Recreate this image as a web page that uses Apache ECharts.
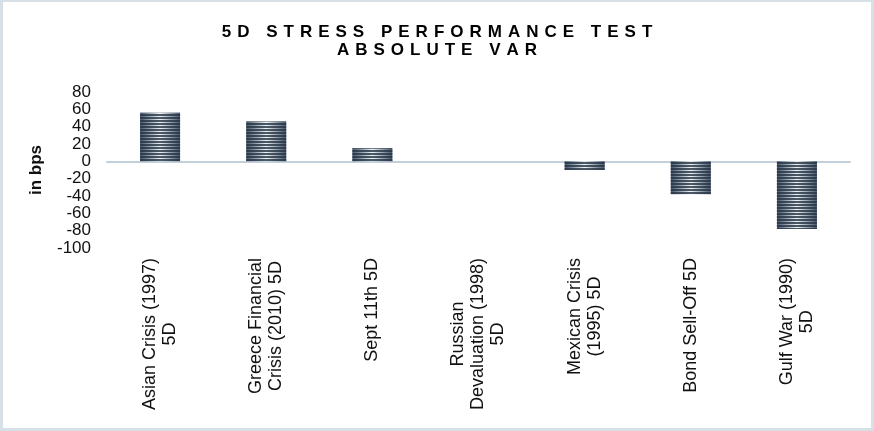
<!DOCTYPE html>
<html>
<head>
<meta charset="utf-8">
<script src="https://cdn.jsdelivr.net/npm/echarts@6/dist/echarts.min.js"></script>
<style>
  html, body { margin: 0; padding: 0; background: #fff; }
  #chart {
    width: 874px; height: 431px;
    box-shadow: inset 3px 2px 0 #d8e0e7, inset -3px -3px 0 #d8e0e7;
  }
</style>
</head>
<body>
<div id="chart"></div>
<script>
const titleLines = ['5D STRESS PERFORMANCE TEST', 'ABSOLUTE VAR'];
const yAxisName = 'in bps';
const scenarios = [
    'Asian Crisis (1997)\n5D',
    'Greece Financial\nCrisis (2010) 5D',
    'Sept 11th 5D',
    'Russian\nDevaluation (1998)\n5D',
    'Mexican Crisis\n(1995) 5D',
    'Bond Sell-Off 5D',
    'Gulf War (1990)\n5D'
];
const varValues = [56, 46, 15, 0, -10, -38, -78];
const yMin = -100;
const yMax = 80;
const yStep = 20;

const FONT = '"Liberation Sans", Arial, sans-serif';

// spread title letters out, echarts has no letter spacing
function spaced(line) {
    return line.split('').map(ch => '{c|' + ch + '}').join('');
}

const chart = echarts.init(document.getElementById('chart'));

const option = {
    animation: false,
    title: {
        text: titleLines.map(spaced).join('\n'),
        left: 'center',
        top: 23,
        padding: 0,
        textStyle: {
            fontFamily: FONT,
            fontSize: 17,
            fontWeight: 'bold',
            color: '#000',
            lineHeight: 18,
            rich: {
                c: {
                    fontFamily: FONT,
                    fontSize: 17,
                    fontWeight: 'bold',
                    color: '#000',
                    lineHeight: 18,
                    padding: [0, 3, 0, 3]
                }
            }
        }
    },
    grid: { left: 107, right: 24, top: 92, bottom: 183 },
    xAxis: {
        type: 'category',
        data: scenarios,
        axisLine: { onZero: true, lineStyle: { color: '#c3cfd9', width: 2 } },
        axisTick: { show: false },
        axisLabel: {
            interval: 0,
            rotate: 90,
            margin: 10,
            formatter: v => v.split('\n').map(s => '{a|' + s + '}').join('\n'),
            rich: {
                a: {
                    fontFamily: FONT,
                    fontSize: 18,
                    lineHeight: 20,
                    color: '#111',
                    align: 'center'
                }
            }
        }
    },
    yAxis: {
        type: 'value',
        min: yMin,
        max: yMax,
        interval: yStep,
        name: yAxisName,
        nameLocation: 'middle',
        nameGap: 62,
        nameTextStyle: { fontFamily: FONT, fontSize: 17, fontWeight: 'bold', color: '#111' },
        axisLine: { show: false },
        axisTick: { show: false },
        splitLine: { show: false },
        axisLabel: { fontFamily: FONT, fontSize: 17, color: '#111', margin: 16 }
    },
    series: [{
        // shaded body of the bar
        type: 'bar',
        data: varValues,
        barWidth: 40,
        barGap: '-100%',
        itemStyle: {
            color: {
                type: 'linear', x: 0, y: 0, x2: 1, y2: 0,
                colorStops: [
                    { offset: 0, color: '#44566a' },
                    { offset: 0.5, color: '#eef4f8' },
                    { offset: 1, color: '#44566a' }
                ]
            }
        }
    }, {
        // horizontal stripes on top
        type: 'bar',
        data: varValues,
        barWidth: 40,
        barGap: '-100%',
        z: 3,
        itemStyle: {
            color: 'rgba(0,0,0,0)',
            decal: {
                symbol: 'rect',
                symbolSize: 1,
                rotation: 0,
                dashArrayX: [1, 0],
                dashArrayY: [2, 1],
                color: 'rgba(36, 50, 66, 0.8)'
            }
        }
    }]
};

chart.setOption(option);
</script>
</body>
</html>
